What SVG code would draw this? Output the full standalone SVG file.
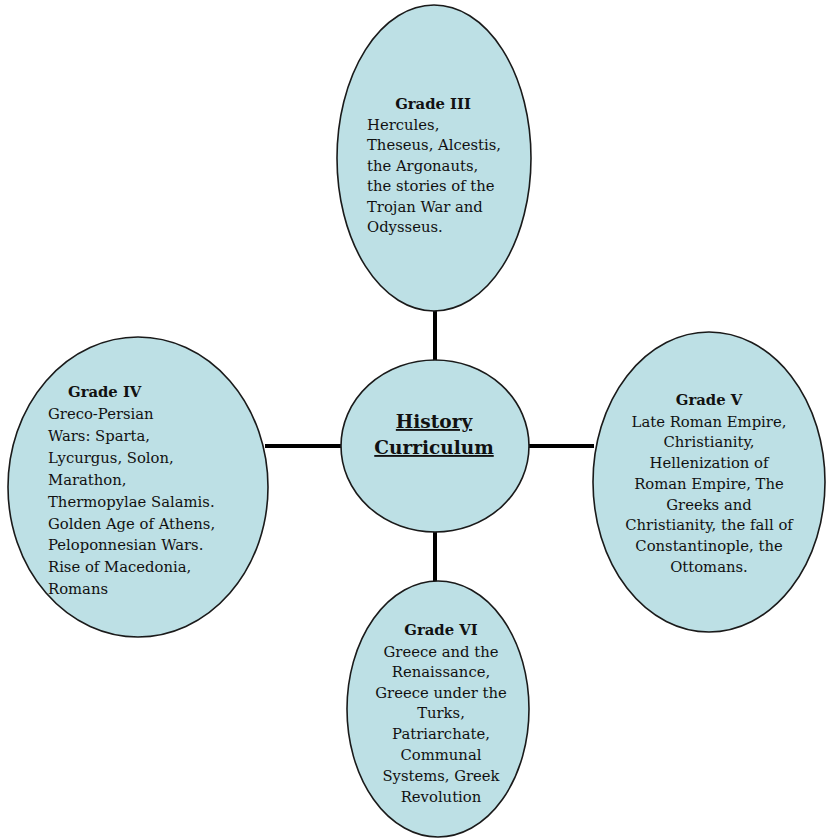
<svg xmlns="http://www.w3.org/2000/svg" width="826" height="840" viewBox="0 0 826 840">
<style>
.node{fill:#bde0e5;stroke:#1a1a1a;stroke-width:1.6}
.conn{stroke:#000;stroke-width:4;fill:none}
text{font-family:"DejaVu Serif","Liberation Serif",serif;font-size:14.8px;fill:#111}
.t{font-weight:bold}
.c{text-anchor:middle}
.h{font-size:18.5px;font-weight:bold;text-decoration:underline}
</style>
<rect width="826" height="840" fill="#fff"/>
<g id="connectors">
<line class="conn" x1="435" y1="310" x2="435" y2="362"/>
<line class="conn" x1="435" y1="530" x2="435" y2="582"/>
<line class="conn" x1="265" y1="446" x2="342" y2="446"/>
<line class="conn" x1="528" y1="446" x2="594" y2="446"/>
</g>
<g id="grade3">
<ellipse class="node" cx="434" cy="158" rx="97" ry="153"/>
<text class="t c" x="433" y="109">Grade III</text>
<text x="367" y="130">Hercules,</text>
<text x="367" y="150">Theseus, Alcestis,</text>
<text x="367" y="171">the Argonauts,</text>
<text x="367" y="191">the stories of the</text>
<text x="367" y="212">Trojan War and</text>
<text x="367" y="232">Odysseus.</text>
</g>
<g id="center">
<ellipse class="node" cx="435" cy="446" rx="94" ry="86"/>
<text class="h c" x="434" y="428">History</text>
<text class="h c" x="434" y="454">Curriculum</text>
</g>
<g id="grade4">
<ellipse class="node" cx="138" cy="487" rx="130" ry="150"/>
<text class="t" x="68" y="397">Grade IV</text>
<text x="48" y="419">Greco-Persian</text>
<text x="48" y="441">Wars: Sparta,</text>
<text x="48" y="463">Lycurgus, Solon,</text>
<text x="48" y="485">Marathon,</text>
<text x="48" y="507">Thermopylae Salamis.</text>
<text x="48" y="529">Golden Age of Athens,</text>
<text x="48" y="550">Peloponnesian Wars.</text>
<text x="48" y="572">Rise of Macedonia,</text>
<text x="48" y="594">Romans</text>
</g>
<g id="grade5">
<ellipse class="node" cx="709" cy="482" rx="116" ry="150"/>
<text class="t c" x="709" y="405">Grade V</text>
<text class="c" x="709" y="427">Late Roman Empire,</text>
<text class="c" x="709" y="447">Christianity,</text>
<text class="c" x="709" y="468">Hellenization of</text>
<text class="c" x="709" y="489">Roman Empire, The</text>
<text class="c" x="709" y="510">Greeks and</text>
<text class="c" x="709" y="530">Christianity, the fall of</text>
<text class="c" x="709" y="551">Constantinople, the</text>
<text class="c" x="709" y="572">Ottomans.</text>
</g>
<g id="grade6">
<ellipse class="node" cx="438" cy="709" rx="91" ry="128"/>
<text class="t c" x="441" y="635">Grade VI</text>
<text class="c" x="441" y="657">Greece and the</text>
<text class="c" x="441" y="677">Renaissance,</text>
<text class="c" x="441" y="698">Greece under the</text>
<text class="c" x="441" y="718">Turks,</text>
<text class="c" x="441" y="739">Patriarchate,</text>
<text class="c" x="441" y="760">Communal</text>
<text class="c" x="441" y="781">Systems, Greek</text>
<text class="c" x="441" y="802">Revolution</text>
</g>
</svg>
